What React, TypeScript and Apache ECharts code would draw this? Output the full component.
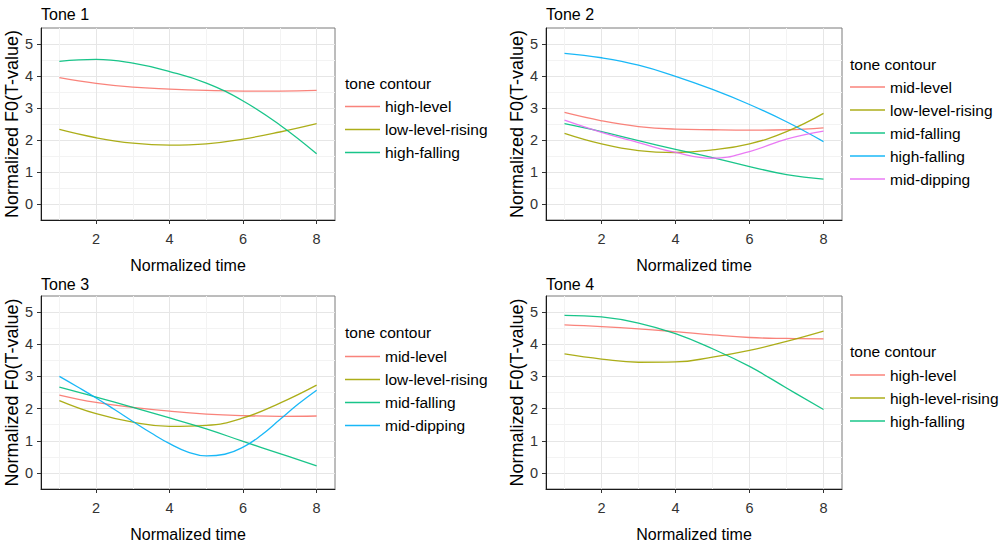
import React, { useEffect, useRef } from 'react';
import * as echarts from 'echarts';

// ---------- data ----------
const timePoints = [1, 2, 3, 4, 5, 6, 7, 8];
const dipTimePoints = [1, 1.5, 2, 2.5, 3, 3.5, 4, 4.5, 5, 5.5, 6, 6.5, 7, 7.5, 8];
const xTickValues = [2, 4, 6, 8];
const yTickValues = [0, 1, 2, 3, 4, 5];
const panelTitles = ['Tone 1', 'Tone 2', 'Tone 3', 'Tone 4'];
const legendTitle = 'tone contour';
const xAxisTitle = 'Normalized time';
const yAxisTitle = 'Normalized F0(T-value)';

// Tone 1
const tone1Names = ['high-level', 'low-level-rising', 'high-falling'];
const tone1HighLevel = [3.95, 3.77, 3.65, 3.59, 3.55, 3.53, 3.53, 3.55];
const tone1LowLevelRising = [2.33, 2.07, 1.9, 1.84, 1.88, 2.03, 2.25, 2.51];
const tone1HighFalling = [4.46, 4.52, 4.4, 4.14, 3.78, 3.22, 2.47, 1.57];

// Tone 2
const tone2Names = ['mid-level', 'low-level-rising', 'mid-falling', 'high-falling', 'mid-dipping'];
const tone2MidLevel = [2.86, 2.6, 2.42, 2.34, 2.32, 2.31, 2.32, 2.38];
const tone2LowLevelRising = [2.21, 1.88, 1.67, 1.61, 1.69, 1.88, 2.26, 2.83];
const tone2MidFalling = [2.51, 2.26, 1.98, 1.71, 1.45, 1.17, 0.92, 0.78];
const tone2HighFalling = [4.71, 4.57, 4.34, 3.99, 3.58, 3.11, 2.57, 1.95];
const tone2MidDipping = [2.62, 2.24, 1.92, 1.61, 1.43, 1.64, 2.03, 2.28];

// Tone 3
const tone3Names = ['mid-level', 'low-level-rising', 'mid-falling', 'mid-dipping'];
const tone3MidLevel = [2.42, 2.19, 2.04, 1.92, 1.83, 1.78, 1.76, 1.77];
const tone3LowLevelRising = [2.25, 1.84, 1.58, 1.45, 1.48, 1.71, 2.17, 2.73];
const tone3MidFalling = [2.67, 2.36, 2.04, 1.71, 1.37, 0.98, 0.6, 0.22];
const tone3MidDipping = [3.0, 2.67, 2.33, 1.97, 1.6, 1.24, 0.91, 0.65, 0.53, 0.58, 0.8, 1.18, 1.66, 2.14, 2.57];

// Tone 4
const tone4Names = ['high-level', 'high-level-rising', 'high-falling'];
const tone4HighLevel = [4.6, 4.55, 4.48, 4.39, 4.29, 4.21, 4.18, 4.17];
const tone4HighLevelRising = [3.7, 3.54, 3.44, 3.45, 3.6, 3.81, 4.09, 4.41];
const tone4HighFalling = [4.9, 4.85, 4.66, 4.33, 3.86, 3.31, 2.64, 1.97];

const palette = ['#F8766D', '#A3A500', '#00BF7D', '#00B0F6', '#E76BF3'];

type Curve = { name: string; x: number[]; y: number[] };

const panels: Curve[][] = [
  [
    { name: tone1Names[0], x: timePoints, y: tone1HighLevel },
    { name: tone1Names[1], x: timePoints, y: tone1LowLevelRising },
    { name: tone1Names[2], x: timePoints, y: tone1HighFalling },
  ],
  [
    { name: tone2Names[0], x: timePoints, y: tone2MidLevel },
    { name: tone2Names[1], x: timePoints, y: tone2LowLevelRising },
    { name: tone2Names[2], x: timePoints, y: tone2MidFalling },
    { name: tone2Names[3], x: timePoints, y: tone2HighFalling },
    { name: tone2Names[4], x: timePoints, y: tone2MidDipping },
  ],
  [
    { name: tone3Names[0], x: timePoints, y: tone3MidLevel },
    { name: tone3Names[1], x: timePoints, y: tone3LowLevelRising },
    { name: tone3Names[2], x: timePoints, y: tone3MidFalling },
    { name: tone3Names[3], x: dipTimePoints, y: tone3MidDipping },
  ],
  [
    { name: tone4Names[0], x: timePoints, y: tone4HighLevel },
    { name: tone4Names[1], x: timePoints, y: tone4HighLevelRising },
    { name: tone4Names[2], x: timePoints, y: tone4HighFalling },
  ],
];

// ---------- layout ----------
const gridRects = [
  { left: 41, top: 28, width: 294, height: 192 },
  { left: 546, top: 28, width: 296, height: 192 },
  { left: 41, top: 296, width: 294, height: 193 },
  { left: 546, top: 296, width: 296, height: 193 },
];
const panelTitleTops = [6.5, 6.5, 276.5, 276.5];
const legendLefts = [345, 850, 345, 850];
const legendTitleTops = [75.5, 56.5, 324.5, 343.5];
const legendTops = [98.5, 79, 348.5, 367];

const FONT = '"Liberation Sans", Arial, Helvetica, sans-serif';
const LEGEND_ICON = 'path://M0,0L35,0L35,1.4L0,1.4Z';

export default function App() {
  const ref = useRef<HTMLDivElement>(null);

  useEffect(() => {
    if (!ref.current) return;
    const chart = echarts.init(ref.current, undefined, { renderer: 'svg' });

    const grid = gridRects.map((r) => ({
      ...r,
      show: true,
      borderColor: '#7a7a7a',
      borderWidth: 1,
      backgroundColor: '#fff',
      containLabel: false,
    }));

    const xAxis = gridRects.map((_, i) => ({
      type: 'value',
      gridIndex: i,
      min: 0.5,
      max: 8.5,
      name: xAxisTitle,
      nameLocation: 'middle',
      nameGap: 37.5,
      nameTextStyle: { fontSize: 16, color: '#000', fontFamily: FONT },
      axisLine: { show: true, onZero: false, lineStyle: { color: '#1a1a1a', width: 1 } },
      axisTick: { show: true, length: 4, customValues: xTickValues, lineStyle: { color: '#333' } },
      axisLabel: { customValues: xTickValues, fontSize: 14.5, color: '#333', margin: 11.5, fontFamily: FONT },
      splitLine: { show: true, lineStyle: { color: '#e6e6e6', width: 1 } },
      minorTick: { show: false, splitNumber: 2 },
      minorSplitLine: { show: true, lineStyle: { color: '#f3f3f3', width: 1 } },
    }));

    const yAxis = gridRects.map((_, i) => ({
      type: 'value',
      gridIndex: i,
      min: -0.5,
      max: 5.5,
      name: yAxisTitle,
      nameLocation: 'middle',
      nameGap: 14,
      nameTextStyle: { fontSize: 18, color: '#000', fontFamily: FONT },
      axisLine: { show: true, onZero: false, lineStyle: { color: '#1a1a1a', width: 1 } },
      axisTick: { show: true, length: 4, customValues: yTickValues, lineStyle: { color: '#333' } },
      axisLabel: { customValues: yTickValues, fontSize: 14.5, color: '#333', margin: 8, fontFamily: FONT },
      splitLine: { show: true, lineStyle: { color: '#e6e6e6', width: 1 } },
      minorTick: { show: false, splitNumber: 2 },
      minorSplitLine: { show: true, lineStyle: { color: '#f3f3f3', width: 1 } },
    }));

    const series: any[] = [];
    panels.forEach((curves, p) => {
      curves.forEach((c, k) => {
        series.push({
          type: 'line',
          name: c.name,
          xAxisIndex: p,
          yAxisIndex: p,
          data: c.x.map((xv, j) => [xv, c.y[j]]),
          smooth: 0.45,
          smoothConstraint: false,
          symbol: 'none',
          color: palette[k],
          lineStyle: { color: palette[k], width: 1.3, opacity: 0.9 },
        });
      });
    });

    const title: any[] = [];
    panelTitles.forEach((t, i) => {
      title.push({
        text: t,
        left: gridRects[i].left,
        top: panelTitleTops[i],
        padding: 0,
        textStyle: { fontSize: 16, fontWeight: 'normal', color: '#000', fontFamily: FONT },
      });
      title.push({
        text: legendTitle,
        left: legendLefts[i],
        top: legendTitleTops[i],
        padding: 0,
        textStyle: { fontSize: 15.5, fontWeight: 'normal', color: '#000', fontFamily: FONT },
      });
    });

    const legend = panels.map((curves, i) => ({
      orient: 'vertical',
      left: legendLefts[i],
      top: legendTops[i],
      padding: 0,
      itemWidth: 35,
      itemHeight: 14,
      itemGap: 7,
      icon: LEGEND_ICON,
      selectedMode: false,
      textStyle: { fontSize: 15.5, color: '#000', fontFamily: FONT },
      data: curves.map((c, k) => ({
        name: c.name,
        icon: LEGEND_ICON,
        itemStyle: { color: palette[k], opacity: 0.9 },
      })),
    }));

    chart.setOption({
      animation: false,
      backgroundColor: '#fff',
      textStyle: { fontFamily: FONT },
      title,
      legend,
      grid,
      xAxis,
      yAxis,
      series,
    });

    return () => chart.dispose();
  }, []);

  return (
    <div
      ref={ref}
      style={{ position: 'fixed', left: 0, top: 0, width: 1004, height: 548, background: '#fff' }}
    />
  );
}
